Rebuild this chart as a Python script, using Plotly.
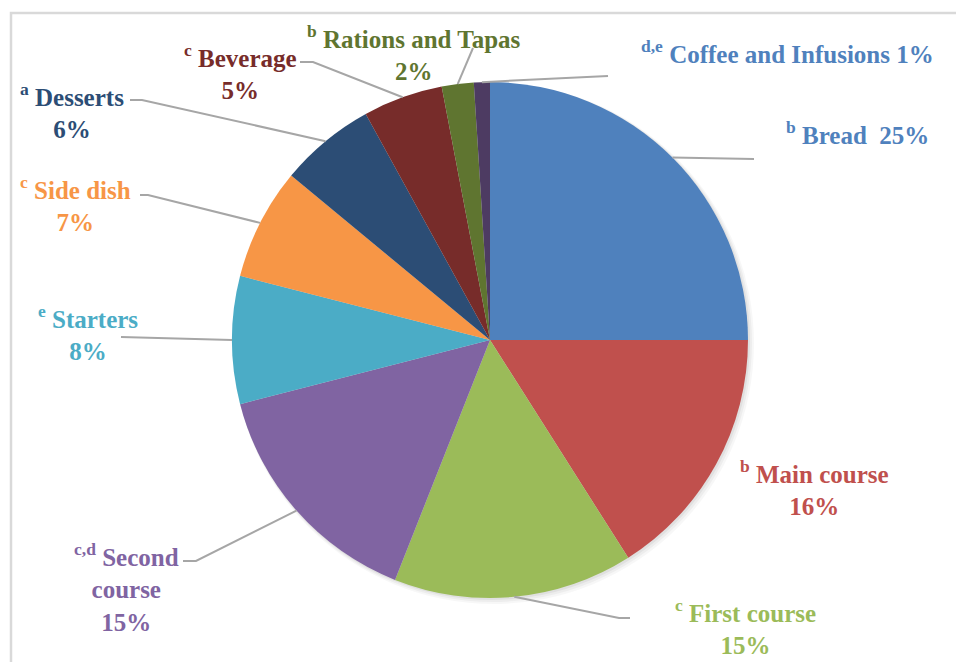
import math
import plotly.graph_objects as go

# Share of food waste by dish category (%), clockwise from 12 o'clock
categories = ["Bread", "Main course", "First course", "Second course", "Starters",
              "Side dish", "Desserts", "Beverage", "Rations and Tapas", "Coffee and Infusions"]
values = [25, 16, 15, 15, 8, 7, 6, 5, 2, 1]
letters = ["b", "b", "c", "c,d", "e", "c", "a", "c", "b", "d,e"]

slice_colors = ["#4F81BD", "#C0504D", "#9BBB59", "#8064A2", "#4BACC6",
                "#F79646", "#2C4D75", "#772C2A", "#5F7530", "#4D3B62"]
label_colors = ["#4F81BD", "#C0504D", "#9BBB59", "#8064A2", "#4BACC6",
                "#F79646", "#2C4D75", "#772C2A", "#5F7530", "#4F81BD"]

W, H = 956, 662
CX, CY, R = 490, 340, 258

def px(x):
    return x / W

def py(y):
    return 1 - y / H

# label layout: (template, centre x, centre y, leader end points)
label_layout = {
    "Bread": ("{sup} Bread&nbsp; {pct}", 857, 133, [(754, 159)]),
    "Main course": ("{sup} Main course<br>{pct}", 814, 488, []),
    "First course": ("{sup} First course<br>{pct}", 745, 627, [(619, 618), (630, 618)]),
    "Second course": ("{sup} Second<br>course<br>{pct}", 126, 587, [(196, 561), (183, 561)]),
    "Starters": ("{sup} Starters<br>{pct}", 88, 333, [(121, 337)]),
    "Side dish": ("{sup} Side dish<br>{pct}", 75, 204, [(148, 195), (140, 195)]),
    "Desserts": ("{sup} Desserts<br>{pct}", 72, 111, [(142, 100), (130, 100)]),
    "Beverage": ("{sup} Beverage<br>{pct}", 241, 72, [(313, 62), (300, 62)]),
    "Rations and Tapas": ("{sup} Rations and Tapas<br>{pct}", 414, 53, [(473, 48)]),
    "Coffee and Infusions": ("{sup} Coffee and Infusions {pct}", 787, 52, [(608, 76)]),
}

fig = go.Figure()

fig.add_trace(go.Pie(
    labels=categories,
    values=values,
    sort=False,
    direction="clockwise",
    rotation=0,
    marker=dict(colors=slice_colors, line=dict(width=0)),
    textinfo="none",
    hoverinfo="skip",
    showlegend=False,
    domain=dict(x=[px(CX - R), px(CX + R)], y=[py(CY + R), py(CY - R)]),
))

shapes = []
# soft drop shadow behind the pie
for k, a in [(6, 0.03), (4, 0.04), (2, 0.05)]:
    shapes.append(dict(
        type="circle", xref="paper", yref="paper", layer="below",
        x0=px(CX - R + 1), x1=px(CX + R + k),
        y0=py(CY + R + k), y1=py(CY - R + 1),
        fillcolor=f"rgba(0,0,0,{a})", line=dict(width=0),
    ))

# chart frame
shapes.append(dict(
    type="rect", xref="paper", yref="paper",
    x0=px(11), x1=px(970), y0=py(680), y1=py(13),
    line=dict(color="#D9D9D9", width=2.5), fillcolor="rgba(0,0,0,0)",
))

annotations = []
total = sum(values)
cum = 0.0
for cat, val, let, lc in zip(categories, values, letters, label_colors):
    mid = (cum + val / 2) / total * 2 * math.pi
    cum += val
    tpl, lx, ly, pts = label_layout[cat]
    # leader line from the rim at the slice's mid-angle
    if pts:
        sx = CX + R * math.sin(mid)
        sy = CY - R * math.cos(mid)
        path_pts = [(sx, sy)] + pts
        d = "M " + " L ".join(f"{px(x)},{py(y)}" for x, y in path_pts)
        shapes.append(dict(type="path", xref="paper", yref="paper", path=d,
                           line=dict(color="#A6A6A6", width=2)))
    text = tpl.format(sup=f"<sup>{let}</sup>", pct=f"{val}%")
    annotations.append(dict(
        x=px(lx), y=py(ly), xref="paper", yref="paper",
        xanchor="center", yanchor="middle", align="center",
        text=text, showarrow=False,
        font=dict(family="Liberation Serif", size=25, color=lc, weight="bold"),
    ))

fig.update_layout(
    width=W, height=H,
    margin=dict(l=0, r=0, t=0, b=0),
    paper_bgcolor="white",
    plot_bgcolor="white",
    shapes=shapes,
    annotations=annotations,
)

fig.write_html("out.html")
